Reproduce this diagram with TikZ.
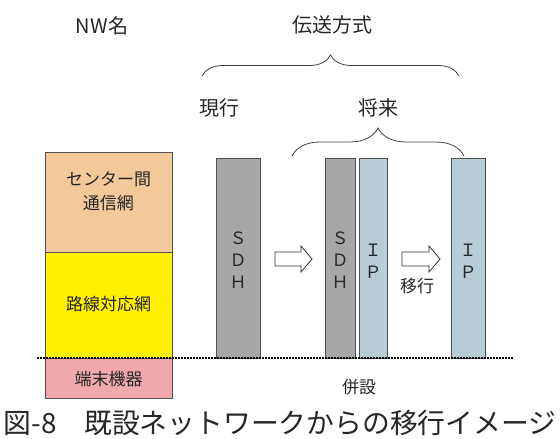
\documentclass[tikz,border=0pt]{standalone}
\usepackage{fontspec}
\setmainfont{Noto Sans CJK JP}
\usetikzlibrary{decorations.pathreplacing}
\definecolor{peach}{HTML}{F3C99B}
\definecolor{yel}{HTML}{FFF100}
\definecolor{pinkc}{HTML}{EFA8AE}
\definecolor{grayc}{HTML}{A7A7A9}
\definecolor{bluec}{HTML}{B8CCD6}
\definecolor{edge}{HTML}{505050}
\tikzset{
  box/.style={draw=edge, line width=0.8pt, inner sep=0pt, outer sep=0pt},
  lbl/.style={inner sep=0pt, font=\fontsize{17}{24}\selectfont, align=center, text=black!85},
  head/.style={inner sep=0pt, font=\fontsize{20}{24}\selectfont, text=black!85},
  col/.style={inner sep=0pt, font=\fontsize{17}{22}\selectfont, align=center, text=black!85},
  bracestyle/.style={draw=black!75, line width=0.8pt, decorate, decoration={brace, amplitude=#1}},
  hollow/.style={draw=black!80, line width=0.8pt, fill=white},
  dotline/.style={line width=1.5pt, dash pattern=on 1.5pt off 1.5pt}
}
\begin{document}
\begin{tikzpicture}[x=1pt,y=-1pt]
\useasboundingbox (0,0) rectangle (560,439);
% left column
\node[box, fill=peach, minimum width=127pt, minimum height=100pt] (center) at (108.5,202) {};
\node[box, fill=yel, minimum width=127pt, minimum height=106pt] (route) at (108.5,305) {};
\node[box, fill=pinkc, minimum width=127pt, minimum height=40pt] (term) at (108.5,378) {};
\node[lbl] (centerlbl) at (108.5,191) {センター間\\通信網};
\node[lbl] (routelbl) at (108.5,304) {路線対応網};
\node[lbl] (termlbl) at (108.5,379) {端末機器};
% columns
\node[box, fill=grayc, minimum width=44pt, minimum height=200pt] (sdh1) at (238,258) {};
\node[col] (sdh1lbl) at (238,260) {Ｓ\\Ｄ\\Ｈ};
\node[box, fill=grayc, minimum width=30pt, minimum height=200pt] (sdh2) at (340,258) {};
\node[col] (sdh2lbl) at (340,260) {Ｓ\\Ｄ\\Ｈ};
\node[box, fill=bluec, minimum width=28pt, minimum height=200pt] (ip2) at (373,258) {};
\node[col] (ip2lbl) at (373,261) {Ｉ\\Ｐ};
\node[box, fill=bluec, minimum width=34pt, minimum height=200pt] (ip3) at (468,258) {};
\node[col] (ip3lbl) at (468,261) {Ｉ\\Ｐ};
% dotted baseline
\coordinate (dl) at (37,358);
\coordinate (dr) at (513,358);
\draw[dotline] (dl) -- (dr);
% hollow arrows
\draw[hollow] (275,252) -- (301,252) -- (301,246) -- (312,259) -- (301,272) -- (301,266) -- (275,266) -- cycle;
\draw[hollow] (402,252) -- (429,252) -- (429,246) -- (440,259) -- (429,272) -- (429,266) -- (402,266) -- cycle;
\node[lbl] (move) at (417,286) {移行};
\node[lbl] (heisetsu) at (359,387) {併設};
% headings
\node[head] (nw) at (102,26) {NW名};
\node[head] (trans) at (332,25) {伝送方式};
\node[head] (now) at (219,108) {現行};
\node[head] (future) at (378,108) {将来};
% braces
\coordinate (b1l) at (202,76);
\coordinate (b1r) at (459,76);
\draw[bracestyle=21pt] (b1l) -- (b1r);
\coordinate (b2l) at (292,156);
\coordinate (b2r) at (464,156);
\draw[bracestyle=28pt] (b2l) -- (b2r);
% caption
\node[inner sep=0pt, font=\fontsize{27.8}{30}\selectfont, text=black!85] (caption) at (280,423) {図-8　既設ネットワークからの移行イメージ};
\end{tikzpicture}
\end{document}
